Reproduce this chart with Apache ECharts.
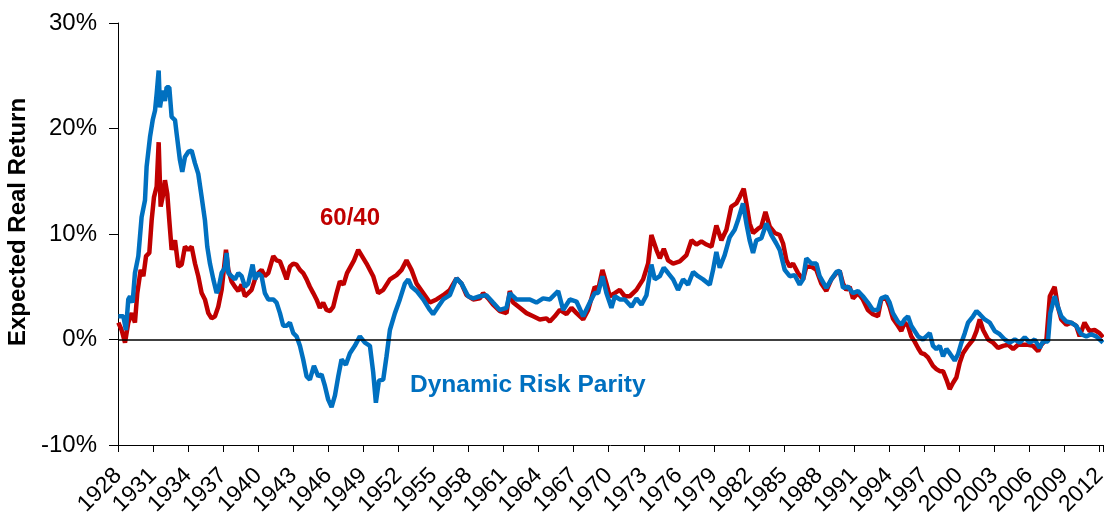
<!DOCTYPE html>
<html>
<head>
<meta charset="utf-8">
<script src="https://cdn.jsdelivr.net/npm/echarts@6/dist/echarts.min.js"></script>
<style>
  html, body { margin: 0; padding: 0; background: #fff; }
  #chart { width: 1104px; height: 512px; }
</style>
</head>
<body>
<div id="chart"></div>
<script>
// 60/40 portfolio: year, expected real return (%)
var years6040 = [1928.03, 1928.31, 1928.6, 1928.88, 1929.17, 1929.45, 1929.65, 1929.94, 1930.17, 1930.4,
  1930.68, 1930.88, 1931.08, 1931.31, 1931.48, 1931.65, 1931.82, 1932.02, 1932.22, 1932.39,
  1932.59, 1932.88, 1933.16, 1933.45, 1933.73, 1934.02, 1934.3, 1934.59, 1934.87, 1935.16,
  1935.44, 1935.73, 1936.01, 1936.3, 1936.58, 1936.87, 1937.24, 1937.44, 1937.72, 1938.01,
  1938.3, 1938.58, 1938.86, 1939.15, 1939.43, 1939.72, 1940.0, 1940.29, 1940.57, 1940.86,
  1941.29, 1941.57, 1941.86, 1942.14, 1942.43, 1942.71, 1943.0, 1943.28, 1943.57, 1943.85,
  1944.14, 1944.42, 1944.71, 1944.99, 1945.28, 1945.56, 1945.85, 1946.14, 1946.42, 1946.71,
  1946.99, 1947.3, 1947.6, 1948.2, 1948.56, 1949.27, 1949.84, 1950.27, 1950.7, 1951.27,
  1951.84, 1952.27, 1952.69, 1953.12, 1953.55, 1954.12, 1954.69, 1955.26, 1955.83, 1956.4,
  1956.97, 1957.4, 1957.83, 1958.4, 1958.97, 1959.25, 1959.68, 1960.1, 1960.68, 1961.25,
  1961.53, 1961.82, 1962.39, 1962.96, 1963.53, 1964.1, 1964.67, 1964.96, 1965.38, 1965.81,
  1966.38, 1966.81, 1967.24, 1967.81, 1968.24, 1968.8, 1969.09, 1969.46, 1969.8, 1970.09,
  1970.52, 1970.94, 1971.37, 1971.8, 1972.37, 1972.94, 1973.37, 1973.65, 1974.08, 1974.37,
  1974.71, 1975.08, 1975.51, 1976.08, 1976.65, 1977.08, 1977.5, 1977.93, 1978.36, 1978.79,
  1979.21, 1979.64, 1980.07, 1980.49, 1980.92, 1981.21, 1981.55, 1981.78, 1982.06, 1982.35,
  1982.78, 1983.06, 1983.41, 1983.78, 1984.21, 1984.63, 1984.92, 1985.21, 1985.49, 1985.77,
  1986.2, 1986.63, 1986.91, 1987.34, 1987.77, 1988.19, 1988.62, 1989.05, 1989.48, 1989.76,
  1990.05, 1990.33, 1990.62, 1990.9, 1991.33, 1991.75, 1992.18, 1992.61, 1993.04, 1993.32,
  1993.75, 1994.04, 1994.32, 1994.75, 1995.04, 1995.32, 1995.61, 1995.89, 1996.18, 1996.47,
  1996.75, 1997.04, 1997.32, 1997.75, 1998.04, 1998.33, 1998.61, 1998.9, 1999.18, 1999.47,
  1999.75, 2000.04, 2000.32, 2000.75, 2001.18, 2001.47, 2001.75, 2002.04, 2002.47, 2002.89,
  2003.32, 2003.75, 2004.18, 2004.61, 2005.03, 2005.46, 2005.89, 2006.32, 2006.75, 2007.03,
  2007.46, 2007.75, 2008.16, 2008.44, 2008.73, 2009.16, 2009.58, 2010.01, 2010.3, 2010.72,
  2011.15, 2011.58, 2012.0, 2012.3];
var ret6040 = [1.6, 0.9, -0.3, 1.6, 2.5, 1.6, 4.4, 6.6, 6.0, 7.9,
  8.2, 11.3, 13.5, 14.5, 18.7, 12.6, 13.5, 15.1, 13.8, 11.3,
  8.5, 9.4, 6.9, 7.1, 8.8, 8.5, 8.8, 7.2, 6.0, 4.4,
  3.8, 2.5, 2.0, 2.2, 3.1, 4.7, 8.5, 6.6, 5.5, 5.0,
  4.6, 5.2, 4.1, 4.4, 4.7, 5.7, 6.3, 6.6, 6.0, 6.3,
  7.9, 7.5, 7.4, 6.6, 5.7, 6.9, 7.2, 7.1, 6.6, 6.3,
  5.7, 5.0, 4.4, 3.8, 3.0, 3.5, 2.8, 2.7, 3.1, 4.4,
  5.5, 5.2, 6.3, 7.5, 8.5, 7.2, 6.0, 4.4, 4.7, 5.7,
  6.1, 6.6, 7.5, 6.6, 5.3, 4.4, 3.5, 3.8, 4.2, 4.7,
  5.8, 5.3, 4.2, 3.8, 3.9, 4.4, 3.9, 3.3, 2.7, 2.5,
  4.6, 3.5, 3.0, 2.5, 2.2, 1.9, 2.0, 1.7, 2.2, 2.8,
  2.4, 3.0, 2.5, 1.9, 2.8, 5.0, 4.7, 6.6, 5.3, 4.1,
  4.4, 4.7, 4.1, 4.1, 4.7, 5.7, 7.2, 9.9, 8.5, 7.7,
  8.6, 7.5, 7.2, 7.4, 8.0, 9.4, 9.0, 9.3, 9.0, 8.8,
  10.8, 9.4, 10.4, 12.6, 12.9, 13.5, 14.3, 12.9, 11.0, 10.1,
  10.5, 10.7, 12.1, 10.7, 10.1, 9.9, 9.1, 7.5, 6.9, 7.2,
  6.3, 5.7, 6.9, 6.9, 6.6, 5.3, 4.6, 5.7, 6.3, 6.5,
  5.3, 4.7, 5.0, 3.9, 4.4, 3.8, 2.8, 2.4, 2.2, 3.8,
  3.9, 3.1, 2.0, 1.3, 0.8, 1.6, 1.3, 0.3, -0.2, -0.8,
  -1.3, -1.4, -1.7, -2.5, -2.8, -3.0, -3.0, -3.8, -4.7, -4.1,
  -3.6, -2.2, -1.3, -0.6, 0.0, 0.8, 1.9, 0.9, 0.0, -0.3,
  -0.8, -0.6, -0.5, -0.9, -0.5, -0.5, -0.5, -0.6, -1.1, -0.5,
  0.0, 4.1, 5.0, 3.1, 1.9, 1.4, 1.6, 1.3, 0.3, 1.6,
  0.8, 0.9, 0.6, 0.2];

// Dynamic Risk Parity: year, expected real return (%)
var yearsDrp = [1928.03, 1928.46, 1928.68, 1928.88, 1929.03, 1929.25, 1929.45, 1929.74, 1930.02, 1930.31,
  1930.45, 1930.74, 1930.97, 1931.17, 1931.31, 1931.48, 1931.59, 1931.82, 1932.02, 1932.16,
  1932.39, 1932.59, 1932.88, 1933.02, 1933.3, 1933.5, 1933.73, 1934.02, 1934.3, 1934.59,
  1934.87, 1935.16, 1935.44, 1935.64, 1935.87, 1936.16, 1936.44, 1936.58, 1936.87, 1937.15,
  1937.3, 1937.44, 1937.72, 1938.01, 1938.3, 1938.58, 1938.86, 1939.15, 1939.52, 1939.72,
  1940.0, 1940.29, 1940.57, 1940.86, 1941.29, 1941.57, 1941.86, 1942.14, 1942.43, 1942.71,
  1943.0, 1943.28, 1943.57, 1943.85, 1944.14, 1944.42, 1944.77, 1945.14, 1945.42, 1945.71,
  1945.99, 1946.28, 1946.57, 1946.85, 1947.13, 1947.5, 1947.85, 1948.27, 1948.7, 1949.13,
  1949.56, 1949.84, 1950.07, 1950.33, 1950.7, 1950.98, 1951.27, 1951.7, 1952.12, 1952.55,
  1952.84, 1953.12, 1953.55, 1954.12, 1954.69, 1954.97, 1955.4, 1955.83, 1956.4, 1956.97,
  1957.4, 1957.97, 1958.4, 1958.97, 1959.53, 1960.1, 1960.68, 1961.25, 1961.53, 1962.1,
  1962.68, 1963.25, 1963.81, 1964.38, 1964.96, 1965.67, 1966.1, 1966.67, 1967.24, 1967.81,
  1968.38, 1968.8, 1969.09, 1969.46, 1969.8, 1970.23, 1970.52, 1970.94, 1971.37, 1971.94,
  1972.37, 1972.8, 1973.23, 1973.65, 1973.94, 1974.37, 1974.71, 1975.08, 1975.51, 1975.93,
  1976.36, 1976.79, 1977.22, 1977.64, 1978.07, 1978.64, 1978.93, 1979.21, 1979.5, 1979.92,
  1980.35, 1980.78, 1981.06, 1981.49, 1981.78, 1982.06, 1982.35, 1982.63, 1983.06, 1983.49,
  1983.92, 1984.34, 1984.63, 1985.06, 1985.49, 1985.91, 1986.34, 1986.63, 1986.91, 1987.34,
  1987.77, 1988.05, 1988.62, 1989.05, 1989.48, 1989.76, 1990.05, 1990.47, 1990.9, 1991.33,
  1991.75, 1992.18, 1992.61, 1993.04, 1993.32, 1993.75, 1994.04, 1994.32, 1994.75, 1995.04,
  1995.32, 1995.61, 1995.89, 1996.18, 1996.47, 1996.89, 1997.18, 1997.47, 1997.75, 1998.04,
  1998.33, 1998.61, 1998.9, 1999.18, 1999.61, 1999.89, 2000.18, 2000.47, 2000.75, 2001.18,
  2001.47, 2001.75, 2002.18, 2002.61, 2003.04, 2003.46, 2003.89, 2004.32, 2004.75, 2005.17,
  2005.6, 2006.03, 2006.46, 2006.87, 2007.16, 2007.59, 2007.79, 2008.16, 2008.44, 2008.73,
  2009.16, 2009.58, 2010.01, 2010.44, 2010.87, 2011.29, 2011.72, 2012.3];
var retDrp = [2.2, 2.2, 0.9, 3.8, 4.1, 3.5, 6.3, 7.9, 11.6, 13.2,
  16.4, 19.2, 20.8, 21.7, 23.3, 25.5, 22.0, 23.6, 22.6, 23.9,
  23.9, 21.1, 20.8, 19.5, 17.0, 15.9, 17.3, 17.8, 17.9, 16.7,
  15.7, 13.5, 11.3, 8.8, 7.2, 5.7, 4.4, 4.7, 6.3, 6.8,
  8.2, 6.3, 6.0, 5.7, 6.3, 6.0, 5.0, 5.3, 7.1, 5.7,
  6.3, 6.0, 4.4, 3.8, 3.8, 3.5, 2.5, 1.3, 1.3, 1.6,
  0.6, 0.3, -0.6, -1.9, -3.5, -3.8, -2.5, -3.5, -3.3, -4.4,
  -5.7, -6.4, -5.3, -3.5, -1.9, -2.4, -1.3, -0.6, 0.3, -0.3,
  -0.6, -3.1, -6.0, -3.9, -3.8, -1.6, 0.9, 2.5, 3.8, 5.3,
  5.7, 5.0, 4.6, 3.8, 2.8, 2.4, 3.1, 3.8, 4.2, 5.8,
  5.3, 4.1, 3.9, 4.1, 4.2, 3.5, 2.8, 3.0, 4.4, 3.8,
  3.8, 3.8, 3.5, 3.9, 3.8, 4.6, 2.8, 3.8, 3.6, 2.2,
  3.5, 4.4, 4.4, 6.0, 4.4, 3.0, 4.1, 3.8, 3.8, 3.1,
  3.9, 3.3, 4.2, 7.1, 5.7, 6.0, 6.8, 6.3, 5.7, 4.7,
  5.7, 5.2, 6.4, 6.0, 5.7, 5.2, 6.6, 8.3, 6.8, 8.0,
  9.7, 10.4, 11.3, 12.9, 11.0, 9.4, 8.2, 9.4, 9.6, 11.0,
  9.9, 9.1, 8.5, 6.6, 6.0, 6.1, 5.2, 5.7, 7.7, 7.2,
  7.2, 6.0, 4.9, 5.7, 6.4, 6.5, 4.9, 5.0, 4.4, 4.6,
  4.1, 3.5, 2.8, 2.8, 3.9, 4.1, 3.5, 2.5, 1.7, 1.4,
  1.9, 2.2, 1.3, 0.8, 0.3, 0.0, 0.3, 0.6, -0.6, -0.9,
  -0.6, -1.6, -0.9, -1.3, -2.0, -1.4, -0.3, 0.6, 1.6, 2.2,
  2.7, 2.4, 1.9, 1.6, 0.8, 0.5, 0.0, -0.3, 0.0, -0.3,
  0.2, -0.3, 0.0, -0.8, -0.2, -0.2, 2.5, 4.1, 3.1, 2.2,
  1.7, 1.6, 1.3, 0.5, 0.3, 0.5, 0.3, -0.3];

var chart = echarts.init(document.getElementById('chart'));

var font = "'Liberation Sans', Arial, sans-serif";

function pairs(xs, ys) {
  return xs.map(function (x, i) { return [x, ys[i]]; });
}

var option = {
  animation: false,
  grid: {
    left: 118,
    right: 1,
    top: 23,
    bottom: 67,
    containLabel: false,
    outerBoundsMode: 'none'
  },
  xAxis: {
    type: 'value',
    min: 1928,
    max: 2012.3,
    interval: 3,
    splitLine: { show: false },
    axisLine: { onZero: false, lineStyle: { color: '#000', width: 1 } },
    axisTick: { length: 7, lineStyle: { color: '#000' } },
    axisLabel: {
      rotate: 45,
      margin: 27,
      showMinLabel: true,
      hideOverlap: false,
      color: '#000',
      fontFamily: font,
      fontSize: 23,
      formatter: function (v) {
        return Math.round(v) === v ? String(v) : '';
      }
    }
  },
  yAxis: {
    type: 'value',
    min: -10,
    max: 30,
    interval: 10,
    name: 'Expected Real Return',
    nameLocation: 'middle',
    nameGap: 82,
    nameTextStyle: {
      color: '#000',
      fontFamily: font,
      fontSize: 24,
      fontWeight: 'bold',
      padding: [0, 0, 0, 24]
    },
    splitLine: { show: false },
    axisLine: { show: true, lineStyle: { color: '#000', width: 1 } },
    axisTick: { show: true, length: 9, lineStyle: { color: '#000' } },
    axisLabel: {
      margin: 21,
      color: '#000',
      fontFamily: font,
      fontSize: 24,
      formatter: '{value}%'
    }
  },
  series: [
    {
      name: '60/40',
      type: 'line',
      data: pairs(years6040, ret6040),
      showSymbol: false,
      lineStyle: { color: '#C00000', width: 4.5 },
      itemStyle: { color: '#C00000' }
    },
    {
      name: 'Dynamic Risk Parity',
      type: 'line',
      data: pairs(yearsDrp, retDrp),
      showSymbol: false,
      lineStyle: { color: '#0070C0', width: 4.5 },
      itemStyle: { color: '#0070C0' },
      markLine: {
        silent: true,
        symbol: 'none',
        label: { show: false },
        lineStyle: { color: '#000', width: 1.5, type: 'solid' },
        data: [{ yAxis: 0 }]
      }
    }
  ],
  graphic: [
    {
      type: 'text',
      x: 320,
      y: 218,
      style: {
        text: '60/40',
        fill: '#C00000',
        font: 'bold 24px ' + font,
        textVerticalAlign: 'middle'
      }
    },
    {
      type: 'text',
      x: 410,
      y: 385,
      style: {
        text: 'Dynamic Risk Parity',
        fill: '#0070C0',
        font: 'bold 24.5px ' + font,
        textVerticalAlign: 'middle'
      }
    }
  ]
};

chart.setOption(option);
</script>
</body>
</html>
